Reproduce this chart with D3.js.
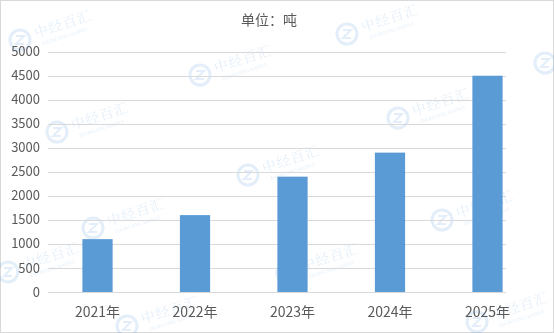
<!DOCTYPE html>
<html><head><meta charset="utf-8">
<script src="https://cdn.jsdelivr.net/npm/d3@7"></script>
<style>body{margin:0;background:#fff}svg{display:block}</style>
</head><body>
<svg id="c" width="554" height="333"></svg>
<script>
const categories = ["2021年","2022年","2023年","2024年","2025年"];
const values = [1100, 1600, 2400, 2900, 4500];
const yTicks = [0,500,1000,1500,2000,2500,3000,3500,4000,4500,5000];
const title = "单位：吨";
const watermarks = [[20,40],[347,34],[200,75],[398,118],[57,132],[248,175],[442,220],[93,228],[287,273],[8,272],[545,63],[127,326],[477,322]];

const svg = d3.select("#c");
const font = "'Microsoft YaHei','Noto Sans CJK SC','DejaVu Sans',sans-serif";
svg.append("rect").attr("x",0.5).attr("y",0.5).attr("width",553).attr("height",332)
  .attr("fill","#fff").attr("stroke","#d9d9d9");

// watermarks
const wm = svg.append("g").attr("opacity",0.13);
watermarks.forEach(([x,y])=>{
  const g = wm.append("g").attr("transform",`translate(${x},${y})`);
  g.append("circle").attr("r",10).attr("fill","none").attr("stroke","#2a7fd4").attr("stroke-width",3);
  g.append("path").attr("d","M-4,-4H4L-4,4H4").attr("fill","none").attr("stroke","#2a7fd4").attr("stroke-width",2);
  const t = g.append("g").attr("transform","translate(16,-2) rotate(-18)");
  t.append("text").attr("font-size",14).attr("letter-spacing",1).attr("fill","#2a7fd4").attr("font-family","'Noto Serif CJK SC','Noto Sans CJK SC',serif").text("中经百汇");
  t.append("text").attr("x",4).attr("y",9).attr("font-size",5).attr("fill","#2a7fd4").attr("font-family","serif").text("ZHONGJING BAIHUI");
});

const y = d3.scaleLinear().domain([0,5000]).range([292,51.7]);
const x = d3.scaleBand().domain(categories).range([48.75,536.25]).paddingInner(0.69).paddingOuter(0.345);

svg.append("g").selectAll("line").data(yTicks).join("line")
  .attr("x1",48).attr("x2",506).attr("y1",d=>Math.round(y(d))+0.5).attr("y2",d=>Math.round(y(d))+0.5)
  .attr("stroke","#d9d9d9").attr("stroke-width",1);

svg.append("g").selectAll("text").data(yTicks).join("text")
  .attr("x",40).attr("y",d=>y(d)).attr("dy","0.35em").attr("text-anchor","end")
  .attr("font-size",13).attr("fill","#595959").attr("font-family",font).text(d=>d);

svg.append("g").selectAll("rect").data(values).join("rect")
  .attr("x",(d,i)=>x(categories[i])).attr("width",x.bandwidth())
  .attr("y",d=>y(d)).attr("height",d=>y(0)-y(d)).attr("fill","#5b9bd5");

svg.append("g").selectAll("text").data(categories).join("text")
  .attr("x",d=>x(d)+x.bandwidth()/2).attr("y",317).attr("text-anchor","middle")
  .attr("font-size",14).attr("fill","#595959").attr("font-family",font).text(d=>d);

svg.append("text").attr("x",269).attr("y",25).attr("text-anchor","middle")
  .attr("font-size",14).attr("fill","#595959").attr("font-family",font).text(title);
</script>
</body></html>
